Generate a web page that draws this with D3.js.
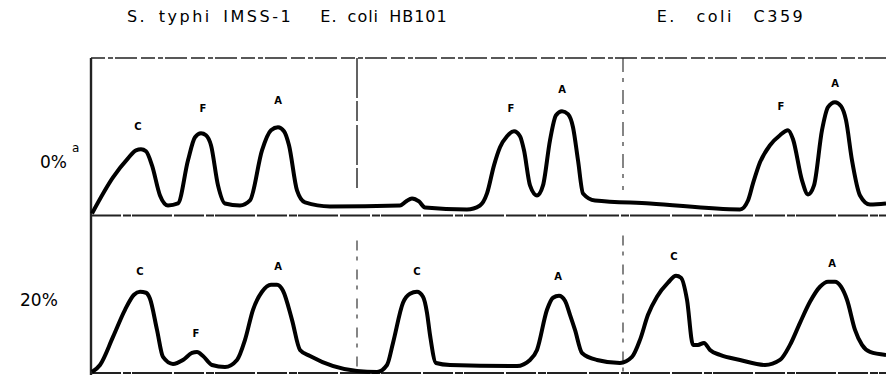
<!DOCTYPE html>
<html>
<head>
<meta charset="utf-8">
<script src="https://cdnjs.cloudflare.com/ajax/libs/d3/7.8.5/d3.min.js"></script>
<style>
  body { margin: 0; background: #fff; }
  svg { display: block; }
</style>
</head>
<body>
<svg id="chart" width="886" height="378"></svg>
<script>
// strain columns and header labels
var strains = ["S. typhi IMSS-1", "E. coli HB101", "E. coli C359"];
var titleX = [210, 384, 731];
// column boundaries in elution units
var colBreaks = [266, 532];
// rows: NaCl concentration
var rows = ["0%", "20%"];

// trace for 0% row: [elution, absorbance]
var trace0 = [
  [1, 2], [22, 38], [37, 57], [45, 65], [50, 66], [55, 64], [61, 50], [69, 20], [77, 10], [87, 12],
  [97, 55], [104, 78], [110, 82], [115, 80], [120, 70], [127, 30], [134, 12], [149, 10], [159, 15],
  [171, 65], [180, 85], [187, 88], [193, 84], [198, 70], [206, 25], [214, 13], [239, 9], [309, 10],
  [315, 14], [321, 17], [328, 14], [334, 8], [376, 6], [389, 10], [396, 22], [403, 50],
  [409, 68], [416, 79], [423, 84], [429, 79], [433, 65], [439, 30], [446, 20], [452, 30], [459, 75],
  [465, 100], [471, 104], [477, 101], [482, 88], [487, 55], [492, 22], [504, 15], [559, 12], [649, 6],
  [657, 15], [662, 32], [669, 53], [679, 70], [689, 80], [697, 85], [702, 76], [711, 35],
  [717, 21], [723, 30], [731, 85], [737, 108], [744, 113], [750, 109], [755, 95], [761, 55], [769, 20],
  [779, 11], [795, 12]
];

// trace for 20% row
var trace20 = [
  [1, 1], [9, 8], [22, 36], [34, 63], [43, 78], [49, 81], [55, 80], [59, 74], [66, 43], [72, 16],
  [82, 9], [92, 13], [101, 20], [106, 21], [112, 17], [121, 8], [134, 6], [146, 13], [154, 33],
  [162, 63], [171, 81], [180, 88], [186, 88], [192, 82], [201, 53], [209, 23], [219, 17], [266, 2],
  [286, 1], [296, 8], [302, 30], [312, 70], [319, 79], [326, 81], [332, 76], [336, 60], [339, 38],
  [345, 10], [359, 8], [426, 7], [439, 13], [446, 23], [456, 63], [462, 75], [468, 77],
  [474, 72], [479, 58], [484, 43], [491, 20], [506, 13], [529, 10], [541, 16], [549, 33], [557, 58],
  [566, 76], [577, 90], [585, 97], [590, 95], [596, 73], [602, 28], [607, 28], [613, 30],
  [619, 23], [629, 18], [649, 13], [674, 8], [689, 13], [699, 28], [709, 50], [719, 71],
  [729, 86], [737, 91], [744, 91], [750, 86], [756, 73], [764, 43], [771, 28], [779, 21], [795, 18]
];

// peak letters [elution, absorbance, letter]
var peaks0 = [[47, 85, "C"], [112, 103, "F"], [187, 111, "A"], [420, 103, "F"], [471, 122, "A"], [690, 105, "F"], [744, 128, "A"]];
var peaks20 = [[49, 98, "C"], [105, 36, "F"], [187, 103, "A"], [326, 98, "C"], [467, 93, "A"], [583, 113, "C"], [741, 106, "A"]];

var svg = d3.select("#chart"),
    margin = {top: 58, left: 91},
    width = 886 - margin.left,
    rowH = 157.5;

var x = d3.scaleLinear().domain([0, 795]).range([margin.left, margin.left + width]);
var yRow = rows.map(function(r, i) {
  return d3.scaleLinear().domain([0, 157]).range([margin.top + rowH * (i + 1), margin.top + rowH * i]);
});

var frame = svg.append("g").attr("stroke", "#222").attr("fill", "none");

// horizontal rules
[0, 1, 2].forEach(function(i) {
  frame.append("line")
    .attr("x1", x(0)).attr("x2", x(795))
    .attr("y1", margin.top + rowH * i).attr("y2", margin.top + rowH * i)
    .attr("stroke-width", i == 0 ? 1.6 : 2.2)
    .attr("stroke-dasharray", i == 0 ? "14,3,5,2,22,4" : "30,2,8,1,40,2");
});

// left edge
frame.append("line")
  .attr("x1", x(0)).attr("x2", x(0))
  .attr("y1", margin.top).attr("y2", margin.top + rowH * 2 + 2)
  .attr("stroke-width", 2.4);

// column dividers
colBreaks.forEach(function(c, j) {
  frame.append("line")
    .attr("x1", x(c)).attr("x2", x(c))
    .attr("y1", margin.top).attr("y2", margin.top + 132)
    .attr("stroke-width", j == 0 ? 1.4 : 1.1)
    .attr("stroke-dasharray", j == 0 ? "40,3,20,4" : "14,6,4,8");
  frame.append("line")
    .attr("x1", x(c)).attr("x2", x(c))
    .attr("y1", margin.top + rowH + (j == 0 ? 25 : 20)).attr("y2", margin.top + rowH * 2)
    .attr("stroke-width", 1.1)
    .attr("stroke-dasharray", "10,6,4,9");
});

var line = d3.line().curve(d3.curveMonotoneX);

[trace0, trace20].forEach(function(tr, i) {
  var y = yRow[i];
  line.x(function(d) { return x(d[0]); }).y(function(d) { return y(d[1]); });
  svg.append("path")
    .datum(tr)
    .attr("d", line)
    .attr("fill", "none")
    .attr("stroke", "#000")
    .attr("stroke-width", 4)
    .attr("stroke-linejoin", "round");
});

// peak letters
[peaks0, peaks20].forEach(function(pk, i) {
  svg.append("g").selectAll("text")
    .data(pk)
    .enter().append("text")
    .attr("x", function(d) { return x(d[0]); })
    .attr("y", function(d) { return yRow[i](d[1]); })
    .attr("text-anchor", "middle")
    .attr("font-family", "DejaVu Sans")
    .attr("font-weight", "bold")
    .attr("font-size", 10)
    .text(function(d) { return d[2]; });
});

// strain headers
svg.append("g").selectAll("text")
  .data(strains)
  .enter().append("text")
  .attr("x", function(d, i) { return titleX[i]; })
  .attr("y", 22)
  .attr("text-anchor", "middle")
  .attr("font-family", "DejaVu Sans")
  .attr("font-size", 16)
  .attr("letter-spacing", function(d, i) { return i == 1 ? 1 : 2.5; })
  .attr("word-spacing", function(d, i) { return i == 2 ? 12 : 4; })
  .attr("fill", "#000")
  .text(function(d) { return d; });

// row labels
var rl = svg.append("g").attr("font-family", "DejaVu Sans").attr("fill", "#000");
rl.append("text").attr("x", 40).attr("y", 168).attr("font-size", 17).text(rows[0]);
rl.append("text").attr("x", 72).attr("y", 152).attr("font-size", 12).text("a");
rl.append("text").attr("x", 20).attr("y", 306).attr("font-size", 17).text(rows[1]);
</script>
</body>
</html>
